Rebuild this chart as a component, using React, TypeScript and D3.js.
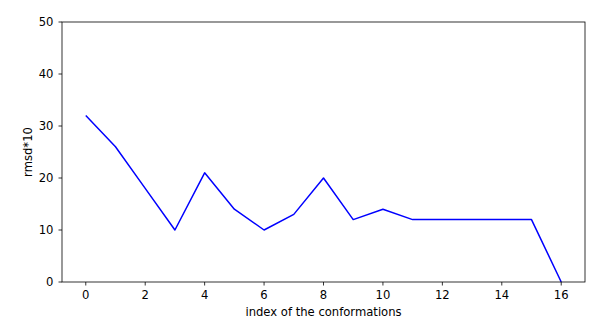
import React from "react";
import * as d3 from "d3";

const indices = [0, 1, 2, 3, 4, 5, 6, 7, 8, 9, 10, 11, 12, 13, 14, 15, 16];
const rmsd = [32, 26, 18, 10, 21, 14, 10, 13, 20, 12, 14, 12, 12, 12, 12, 12, 0];
const xTicks = [0, 2, 4, 6, 8, 10, 12, 14, 16];
const yTicks = [0, 10, 20, 30, 40, 50];

const W = 601, H = 328;
const L = 62, R = 585, T = 22, B = 282;

export default function App() {
  const x = d3.scaleLinear().domain([-0.8, 16.8]).range([L, R]);
  const y = d3.scaleLinear().domain([0, 50]).range([B, T]);
  const line = d3.line<number>().x((_, i) => x(indices[i])).y((d) => y(d));
  const font = "'DejaVu Sans', sans-serif";
  const fs = 11.6;
  return (
    <svg width={W} height={H} style={{ position: "absolute", left: 0, top: 0, background: "#fff" }}>
      <path d={line(rmsd) || ""} fill="none" stroke="#0000ff" strokeWidth={1.5} strokeLinejoin="round" />
      <rect x={L} y={T} width={R - L} height={B - T} fill="none" stroke="#000" strokeWidth={0.8} />
      {xTicks.map((t) => (
        <g key={"x" + t}>
          <line x1={x(t)} x2={x(t)} y1={B} y2={B + 3.5} stroke="#000" strokeWidth={0.8} />
          <text x={x(t)} y={B + 17.3} textAnchor="middle" fontFamily={font} fontSize={fs} fill="#000">{t}</text>
        </g>
      ))}
      {yTicks.map((t) => (
        <g key={"y" + t}>
          <line x1={L - 3.5} x2={L} y1={y(t)} y2={y(t)} stroke="#000" strokeWidth={0.8} />
          <text x={L - 8.5} y={y(t) + 4.2} textAnchor="end" fontFamily={font} fontSize={fs} fill="#000">{t}</text>
        </g>
      ))}
      <text x={(L + R) / 2} y={316} textAnchor="middle" fontFamily={font} fontSize={fs} fill="#000">index of the conformations</text>
      <text transform={`translate(32,${(T + B) / 2}) rotate(-90)`} textAnchor="middle" fontFamily={font} fontSize={fs} fill="#000">rmsd*10</text>
    </svg>
  );
}
